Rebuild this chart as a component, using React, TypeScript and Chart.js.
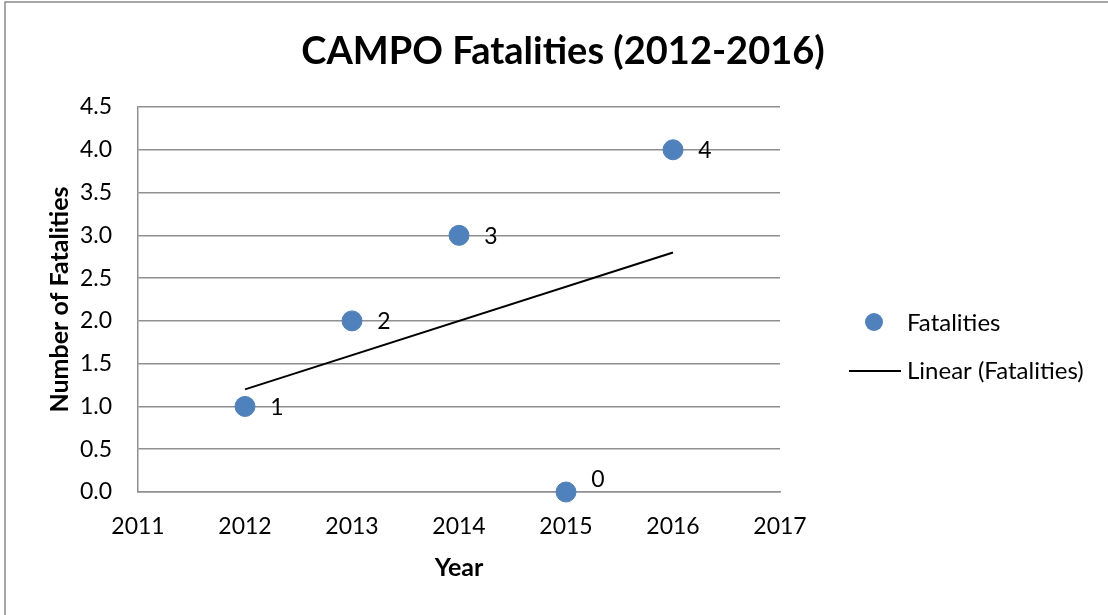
import React, { useEffect, useRef } from "react";
import { Chart, registerables } from "chart.js";

Chart.register(...registerables);

const years = [2012, 2013, 2014, 2015, 2016];
const fatalities = [1, 2, 3, 0, 4];
const trendYears = [2012, 2016];
const trendValues = [1.2, 2.8];
const xRange = [2011, 2017];
const yRange = [0, 4.5];
const titleText = "CAMPO Fatalities (2012-2016)";
const seriesName = "Fatalities";
const trendName = "Linear (Fatalities)";

const FONT = "Lato, 'Noto Sans', sans-serif";
const BLUE = "#4F81BD";
const GRID = "#8f8f8f";

const framePlugin = {
  id: "frame",
  beforeDraw(chart: any) {
    const ctx = chart.ctx;
    ctx.save();
    ctx.fillStyle = "#fff";
    ctx.fillRect(0, 0, chart.width, chart.height);
    ctx.strokeStyle = "#8a8a8a";
    ctx.lineWidth = 1.5;
    ctx.beginPath();
    ctx.moveTo(5, chart.height + 2);
    ctx.lineTo(5, 2);
    ctx.lineTo(chart.width + 2, 2);
    ctx.stroke();
    ctx.restore();
  },
  afterDraw(chart: any) {
    const ctx = chart.ctx;
    ctx.save();
    ctx.font = `bold 38px ${FONT}`;
    ctx.fillStyle = "#000";
    ctx.textAlign = "center";
    ctx.textBaseline = "middle";
    ctx.fillText(titleText, 563, 52);
    ctx.restore();
  },
};

const labelPlugin = {
  id: "pointLabels",
  afterDatasetsDraw(chart: any) {
    const ctx = chart.ctx;
    const meta = chart.getDatasetMeta(0);
    ctx.save();
    ctx.font = `23px ${FONT}`;
    ctx.fillStyle = "#000";
    ctx.textAlign = "center";
    ctx.textBaseline = "middle";
    meta.data.forEach((pt: any, i: number) => {
      const v = fatalities[i];
      const dy = v === 0 ? -12 : 1;
      ctx.fillText(String(v), pt.x + 32, pt.y + dy);
    });
    ctx.restore();
  },
};

const legendPlugin = {
  id: "customLegend",
  afterDraw(chart: any) {
    const ctx = chart.ctx;
    ctx.save();
    ctx.font = `24px ${FONT}`;
    ctx.textAlign = "left";
    ctx.textBaseline = "middle";
    ctx.beginPath();
    ctx.arc(874, 322, 9, 0, Math.PI * 2);
    ctx.fillStyle = BLUE;
    ctx.fill();
    ctx.fillStyle = "#000";
    ctx.fillText(seriesName, 907, 323);
    ctx.strokeStyle = "#000";
    ctx.lineWidth = 2;
    ctx.beginPath();
    ctx.moveTo(849, 371);
    ctx.lineTo(901, 371);
    ctx.stroke();
    ctx.fillText(trendName, 907, 371);
    ctx.restore();
  },
};

export default function App() {
  const ref = useRef<HTMLCanvasElement>(null);

  useEffect(() => {
    document.body.style.margin = "0";
    const canvas = ref.current;
    if (!canvas) return;
    const chart = new Chart(canvas, {
      type: "scatter",
      data: {
        datasets: [
          {
            label: seriesName,
            data: years.map((x, i) => ({ x, y: fatalities[i] })),
            backgroundColor: BLUE,
            borderColor: BLUE,
            pointRadius: 10,
            pointHoverRadius: 10,
            showLine: false,
            clip: false,
            order: 1,
          },
          {
            label: trendName,
            data: trendYears.map((x, i) => ({ x, y: trendValues[i] })),
            showLine: true,
            borderColor: "#000",
            borderWidth: 2,
            pointRadius: 0,
            pointHoverRadius: 0,
            fill: false,
            order: 2,
          },
        ],
      },
      options: {
        responsive: false,
        animation: false,
        devicePixelRatio: 1,
        layout: { padding: { left: 18, right: 328, top: 107, bottom: 0 } },
        plugins: {
          legend: { display: false },
          tooltip: { enabled: false },
          title: { display: false },
        },
        scales: {
          x: {
            type: "linear",
            min: xRange[0],
            max: xRange[1],
            ticks: {
              stepSize: 1,
              color: "#000",
              font: { family: FONT, size: 23 },
              padding: 21,
              callback: (v: any) => String(v),
            },
            grid: { display: false, drawTicks: false },
            border: { display: true, color: GRID, width: 1.5 },
            title: {
              display: true,
              text: "Year",
              color: "#000",
              font: { family: FONT, size: 25, weight: "bold", lineHeight: 1.2 },
              padding: { top: 0, bottom: 32 },
            },
            afterFit: (scale: any) => {
              scale.height = 123;
            },
          },
          y: {
            type: "linear",
            min: yRange[0],
            max: yRange[1],
            ticks: {
              stepSize: 0.5,
              color: "#000",
              font: { family: FONT, size: 23 },
              padding: 26,
              callback: (v: any) => Number(v).toFixed(1),
            },
            grid: { display: true, color: GRID, lineWidth: 1.5, drawTicks: false },
            border: { display: true, color: GRID, width: 1.5 },
            title: {
              display: true,
              text: "Number of Fatalities",
              color: "#000",
              font: { family: FONT, size: 25, weight: "bold", lineHeight: 1.2 },
              padding: { top: 27, bottom: 0 },
            },
            afterFit: (scale: any) => {
              scale.width = 120;
            },
          },
        },
      },
      plugins: [framePlugin, labelPlugin, legendPlugin],
    } as any);
    return () => chart.destroy();
  }, []);

  return (
    <div style={{ width: 1108, height: 615 }}>
      <canvas ref={ref} width={1108} height={615} />
    </div>
  );
}
